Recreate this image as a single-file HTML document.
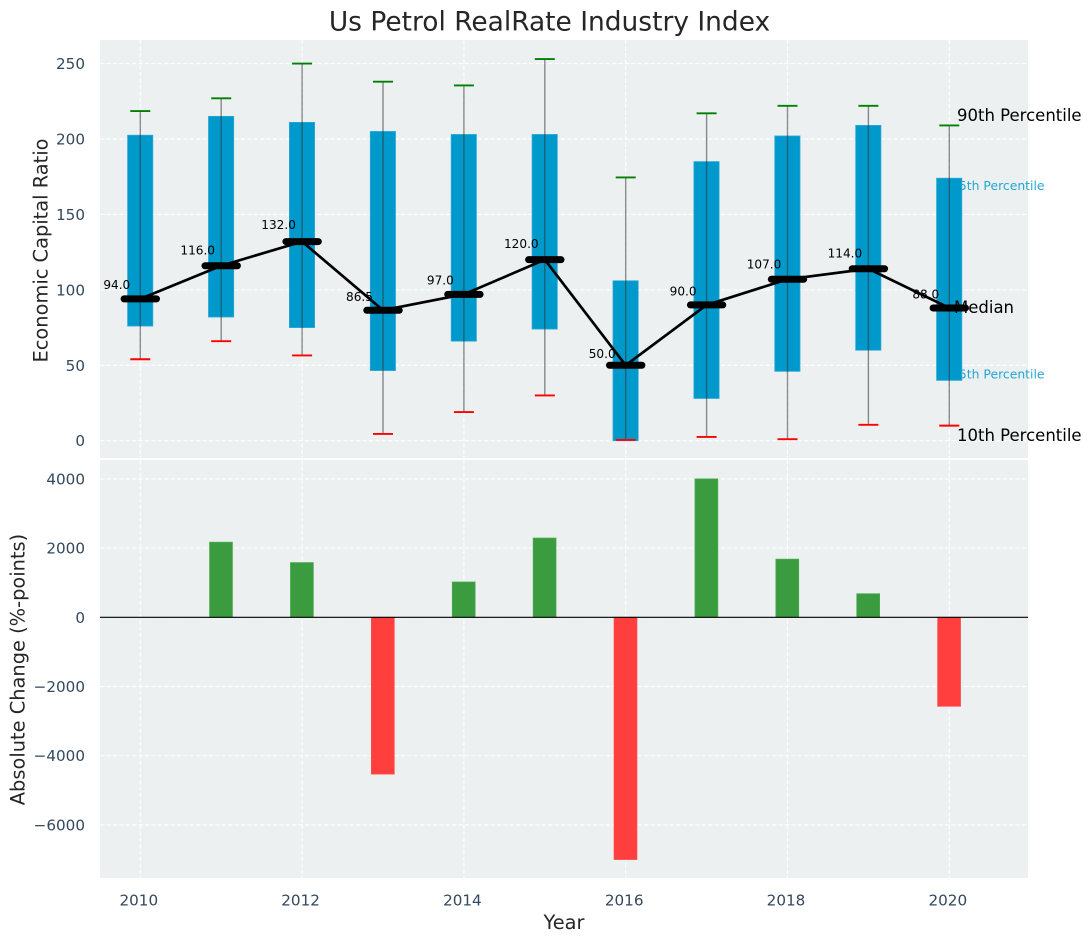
<!DOCTYPE html>
<html>
<head>
<meta charset="utf-8">
<title>Us Petrol RealRate Industry Index</title>
<style>
html,body{margin:0;padding:0;background:#fff;}
svg{display:block;font-family:"DejaVu Sans","Liberation Sans",sans-serif;}
</style>
</head>
<body>
<svg id="chart" width="1092" height="942" viewBox="0 0 1092 942" xmlns="http://www.w3.org/2000/svg">
  <rect x="100" y="40" width="928" height="418" fill="#ecf0f1"/>
  <rect x="100" y="460" width="928" height="418" fill="#ecf0f1"/>
  <g id="grid"></g>
  <text x="549.5" y="30.5" text-anchor="middle" font-size="26.45" fill="#262626">Us Petrol RealRate Industry Index</text>
  <text transform="translate(47.5,250.5) rotate(-90)" text-anchor="middle" font-size="19.4" fill="#262626">Economic Capital Ratio</text>
  <text transform="translate(24.5,669.5) rotate(-90)" text-anchor="middle" font-size="19.4" fill="#262626">Absolute Change (%-points)</text>
  <text x="564" y="929" text-anchor="middle" font-size="19.4" fill="#262626">Year</text>
  <g id="ticks"></g>
  <text x="951" y="190" font-size="12.4" fill="#0099cc" fill-opacity="0.85">75th Percentile</text>
  <text x="951" y="378.5" font-size="12.4" fill="#0099cc" fill-opacity="0.85">25th Percentile</text>
  <g id="marks"></g>
  <text x="957" y="121" font-size="16.5" fill="#000">90th Percentile</text>
  <text x="954" y="313" font-size="16.5" fill="#000">Median</text>
  <text x="957" y="441" font-size="16.5" fill="#000">10th Percentile</text>
</svg>
<script>
const years = [2010, 2011, 2012, 2013, 2014, 2015, 2016, 2017, 2018, 2019, 2020];
const p10 = [54, 66, 56.5, 4.5, 19, 30, 0.5, 2.5, 1, 10.5, 10];
const p25 = [76, 82, 75, 46.5, 66, 74, 0, 28, 46, 60, 40];
const median = [94, 116, 132, 86.5, 97, 120, 50, 90, 107, 114, 88];
const p75 = [202.5, 215, 211, 205, 203, 203, 106, 185, 202, 209, 174];
const p90 = [218.5, 227, 250, 238, 235.5, 253, 174.5, 217, 222, 222, 209];
const changes = [null, 2170, 1580, -4530, 1020, 2290, -7000, 4000, 1680, 680, -2570];
const xTicks = [2010, 2012, 2014, 2016, 2018, 2020];
const topYTicks = [0, 50, 100, 150, 200, 250];
const bottomYTicks = [-6000, -4000, -2000, 0, 2000, 4000];

const NS = 'http://www.w3.org/2000/svg';
function xScale(v) { return 140.3 + (v - 2010) * 80.9; }
function yTop(v) { return 440.7 - v * 1.5085; }
function yBottom(v) { return 617.3 - v * 0.0346; }
function make(parent, tag, attrs, text) {
  const el = document.createElementNS(NS, tag);
  for (const k in attrs) el.setAttribute(k, attrs[k]);
  if (text !== undefined) el.textContent = text;
  parent.appendChild(el);
  return el;
}
const grid = document.getElementById('grid');
const ticks = document.getElementById('ticks');
const marks = document.getElementById('marks');
const gridStyle = { stroke: '#ffffff', 'stroke-width': 1.2, 'stroke-dasharray': '4.4 2', 'stroke-opacity': 0.9 };

xTicks.forEach(function (t) {
  const a = make(grid, 'line', Object.assign({ x1: xScale(t), x2: xScale(t), y1: 40, y2: 458 }, gridStyle));
  
  
  const b = make(grid, 'line', Object.assign({ x1: xScale(t), x2: xScale(t), y1: 460, y2: 878 }, gridStyle));
  
  
  const l = make(ticks, 'text', { x: xScale(t) - 1.5, y: 905.5, 'text-anchor': 'middle', 'font-size': 15.2, fill: '#34495e' }, String(t));
  
  
});
topYTicks.forEach(function (t) {
  const g = make(grid, 'line', Object.assign({ x1: 100, x2: 1028, y1: yTop(t), y2: yTop(t) }, gridStyle));
  
  
  const l = make(ticks, 'text', { x: 85, y: yTop(t) + 5.5, 'text-anchor': 'end', 'font-size': 15.2, fill: '#34495e' }, String(t));
  
  
});
bottomYTicks.forEach(function (t) {
  const g = make(grid, 'line', Object.assign({ x1: 100, x2: 1028, y1: yBottom(t), y2: yBottom(t) }, gridStyle));
  
  
  const txt = (t < 0 ? '\u2212' : '') + Math.abs(t);
  const l = make(ticks, 'text', { x: 85, y: yBottom(t) + 5.5, 'text-anchor': 'end', 'font-size': 15.2, fill: '#34495e' }, txt);
  
  
});

years.forEach(function (yr, i) {
  const cx = xScale(yr);
  const top = yTop(p75[i]);
  const bottom = yTop(p25[i]);
  const box = make(marks, 'rect', { x: cx - 12.7, y: top, width: 25.2, height: bottom - top, fill: '#0099cc', stroke: '#2aa8d6', 'stroke-width': 0.8 });
  
  
});
years.forEach(function (yr, i) {
  const cx = xScale(yr);
  const w = make(marks, 'line', { x1: cx, x2: cx, y1: yTop(p90[i]), y2: yTop(p10[i]), stroke: '#333333', 'stroke-opacity': 0.55, 'stroke-width': 1.4 });
  
  
  const hi = make(marks, 'line', { x1: cx - 10, x2: cx + 10, y1: yTop(p90[i]), y2: yTop(p90[i]), stroke: '#008000', 'stroke-width': 1.9 });
  
  
  const lo = make(marks, 'line', { x1: cx - 10, x2: cx + 10, y1: yTop(p10[i]), y2: yTop(p10[i]), stroke: '#ff0000', 'stroke-width': 1.9 });
  
  
  const lab = make(marks, 'text', { x: cx - 23.5, y: yTop(median[i]) - 8.2 - 0.065 * median[i] + 4.4, 'text-anchor': 'middle', 'font-size': 12.1, fill: '#000' }, median[i].toFixed(1));
  
  
});
const pts = years.map(function (yr, i) { return xScale(yr) + ',' + yTop(median[i]); }).join(' ');
const trend = make(marks, 'polyline', { points: pts, fill: 'none', stroke: '#000', 'stroke-width': 2.7 });


years.forEach(function (yr, i) {
  const cx = xScale(yr);
  const m = make(marks, 'line', { x1: cx - 16.2, x2: cx + 16.2, y1: yTop(median[i]), y2: yTop(median[i]), stroke: '#000', 'stroke-width': 7, 'stroke-linecap': 'round' });
  
  
});
years.forEach(function (yr, i) {
  const c = changes[i];
  if (c === null) return;
  const y0 = yBottom(0);
  const y1 = yBottom(c);
  const bar = make(marks, 'rect', { x: xScale(yr) - 11.6, y: Math.min(y0, y1), width: 22.8, height: Math.abs(y1 - y0), fill: c >= 0 ? '#3a9c3e' : '#ff3e3e', stroke: c >= 0 ? '#4aa84e' : '#ff4a4a', 'stroke-width': 0.8 });
  
  
});
const zero = make(marks, 'line', { x1: 100, x2: 1028, y1: yBottom(0), y2: yBottom(0), stroke: '#000', 'stroke-width': 1.1 });


</script>
</body>
</html>
